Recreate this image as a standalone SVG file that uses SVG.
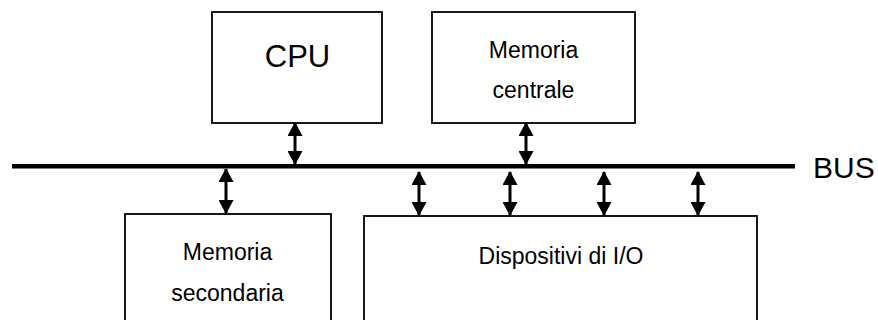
<svg xmlns="http://www.w3.org/2000/svg" width="878" height="320" viewBox="0 0 878 320">
<style>
.box{fill:#fff;stroke:#000;stroke-width:1.8}
.t{font-family:"Liberation Sans",Arial,sans-serif;fill:#000;text-anchor:middle;font-size:23px}
.big{font-size:31px}
.arr{stroke:#000;stroke-width:3;marker-start:url(#ah);marker-end:url(#ah)}
</style>
<defs>
<marker id="ah" viewBox="0 0 14 15" refX="13" refY="7.5" markerWidth="14" markerHeight="15" markerUnits="userSpaceOnUse" orient="auto-start-reverse">
<path d="M0,0 L14,7.5 L0,15 Z" fill="#000"/>
</marker>
</defs>
<g id="cpu">
<rect class="box" x="212" y="12" width="170" height="111"/>
<text class="t big" x="297.5" y="67">CPU</text>
</g>
<g id="memoria-centrale">
<rect class="box" x="432" y="12" width="203" height="111"/>
<text class="t" x="533.5" y="58">Memoria</text>
<text class="t" x="533.5" y="98">centrale</text>
</g>
<g id="memoria-secondaria">
<rect class="box" x="125" y="214" width="206" height="120"/>
<text class="t" x="227.5" y="260">Memoria</text>
<text class="t" x="227.5" y="301">secondaria</text>
</g>
<g id="dispositivi">
<rect class="box" x="364" y="216" width="393" height="120"/>
<text class="t" x="561" y="264">Dispositivi di I/O</text>
</g>
<g id="bus">
<line x1="12" y1="166.3" x2="795" y2="166.3" stroke="#000" stroke-width="4.5"/>
<text class="t" x="813" y="178" style="text-anchor:start;font-size:30px">BUS</text>
</g>
<g id="connectors">
<line class="arr" x1="295" y1="123" x2="295" y2="164"/>
<line class="arr" x1="526" y1="123" x2="526" y2="164"/>
<line class="arr" x1="226" y1="169" x2="226" y2="213"/>
<line class="arr" x1="419" y1="172" x2="419" y2="215"/>
<line class="arr" x1="510" y1="172" x2="510" y2="215"/>
<line class="arr" x1="604" y1="172" x2="604" y2="215"/>
<line class="arr" x1="698" y1="172" x2="698" y2="215"/>
</g>
</svg>
